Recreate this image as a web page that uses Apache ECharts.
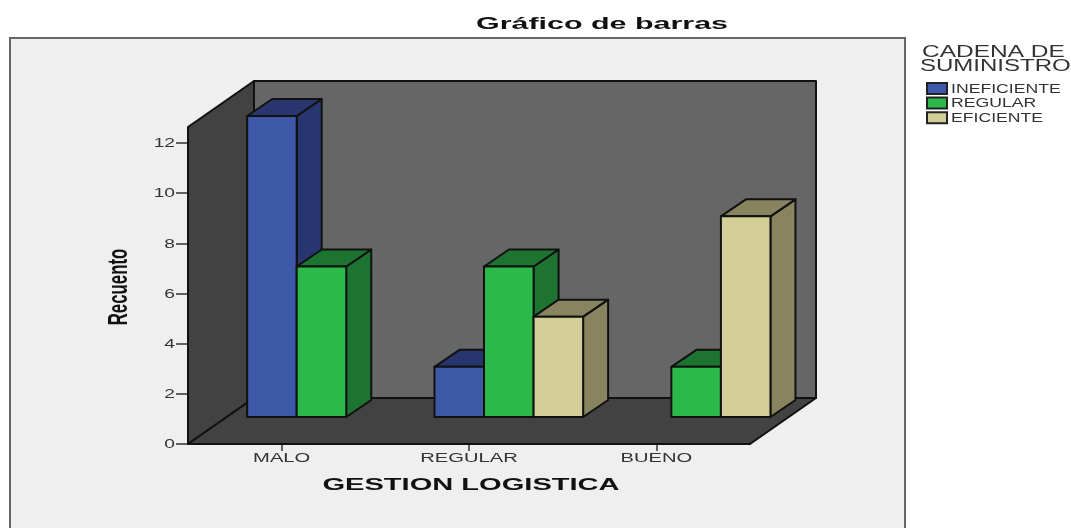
<!DOCTYPE html>
<html>
<head>
<meta charset="utf-8">
<style>
  html, body { margin: 0; padding: 0; background: #fff; }
  #chart { width: 1071px; height: 528px; }
</style>
</head>
<body>
<div id="chart"></div>
<script src="https://cdn.jsdelivr.net/npm/echarts@6/dist/echarts.min.js"></script>
<script>
const categories = ['MALO', 'REGULAR', 'BUENO'];
const yTicks = [0, 2, 4, 6, 8, 10, 12];
const seriesNames = ['INEFICIENTE', 'REGULAR', 'EFICIENTE'];
const ineficiente = [12, 2, 0];
const regular = [6, 6, 2];
const eficiente = [0, 4, 8];
const seriesValues = [ineficiente, regular, eficiente];

const frontColors = ['#3e58a8', '#2db84a', '#d3ce97'];
const sideColors = ['#27366f', '#1c7430', '#87845f'];
const lineColor = '#111';
const textColor = '#333';
const font = '"Liberation Sans", Arial, sans-serif';

// the box drawn around the plot, and where the bars sit inside it
const wallTop = 12.64;
const boxDepth = [66, -46];
const barPlane = [39.8, -27];
const barDepth = [25, -17];
const slotShare = 0.2645;

function poly(points, fill) {
  return {
    type: 'polygon',
    shape: { points: points },
    style: { fill: fill, stroke: lineColor, lineWidth: 2, lineJoin: 'round' }
  };
}

function label(text, x, y, size, fill, align, scaleX, bold) {
  return {
    type: 'text',
    x: x,
    y: y,
    scaleX: scaleX,
    silent: true,
    style: {
      text: text,
      x: 0,
      y: 0,
      fill: fill,
      align: align,
      verticalAlign: 'middle',
      font: (bold ? 'bold ' : '') + size + 'px ' + font
    }
  };
}

function renderWalls(params, api) {
  const box = params.coordSys;
  const left = box.x;
  const right = box.x + box.width;
  const bottom = api.coord([0, 0])[1];
  const top = api.coord([0, wallTop])[1];
  const dx = boxDepth[0];
  const dy = boxDepth[1];
  return {
    type: 'group',
    children: [
      poly([[left + dx, top + dy], [right + dx, top + dy], [right + dx, bottom + dy], [left + dx, bottom + dy]], '#666666'),
      poly([[left, top], [left + dx, top + dy], [left + dx, bottom + dy], [left, bottom]], '#424242'),
      poly([[left, bottom], [left + dx, bottom + dy], [right + dx, bottom + dy], [right, bottom]], '#424242')
    ]
  };
}

function barRenderer(seriesIndex) {
  return function (params, api) {
    const value = api.value(1);
    if (!value) {
      return null;
    }
    const slot = api.size([1, 0])[0] * slotShare;
    const center = api.coord([api.value(0), 0])[0];
    const x0 = center + barPlane[0] + slot * (seriesIndex - 1.5);
    const x1 = x0 + slot;
    const y0 = api.coord([0, 0])[1] + barPlane[1];
    const y1 = api.coord([0, value])[1] + barPlane[1];
    const dx = barDepth[0];
    const dy = barDepth[1];
    return {
      type: 'group',
      children: [
        poly([[x1, y1], [x1 + dx, y1 + dy], [x1 + dx, y0 + dy], [x1, y0]], sideColors[seriesIndex]),
        poly([[x0, y1], [x0 + dx, y1 + dy], [x1 + dx, y1 + dy], [x1, y1]], sideColors[seriesIndex]),
        poly([[x0, y1], [x1, y1], [x1, y0], [x0, y0]], frontColors[seriesIndex])
      ]
    };
  };
}

const barSeries = seriesNames.map(function (name, i) {
  return {
    type: 'custom',
    name: name,
    renderItem: barRenderer(i),
    encode: { x: 0, y: 1 },
    data: seriesValues[i].map(function (v, c) { return [c, v]; })
  };
});

const legendRows = [];
seriesNames.forEach(function (name, i) {
  const y = 83 + i * 14.6;
  legendRows.push({
    type: 'rect',
    shape: { x: 927, y: y, width: 20, height: 11 },
    style: { fill: frontColors[i], stroke: '#222', lineWidth: 2 }
  });
  legendRows.push(label(name, 951, y + 6.5, 12, textColor, 'left', 1.47, false));
});

const chart = echarts.init(document.getElementById('chart'));
chart.setOption({
  animation: false,
  backgroundColor: '#fff',
  grid: { left: 188, top: 143, width: 562, height: 301 },
  xAxis: {
    type: 'category',
    data: categories,
    axisLine: { lineStyle: { color: lineColor, width: 2 } },
    axisTick: { show: true, alignWithLabel: true, length: 7, lineStyle: { color: textColor, width: 1.5 } },
    axisLabel: { show: false }
  },
  yAxis: {
    type: 'value',
    min: 0,
    max: 12,
    interval: 2,
    axisLine: { show: true, lineStyle: { color: lineColor, width: 2 } },
    axisTick: { show: true, length: 12, lineStyle: { color: textColor, width: 1.5 } },
    axisLabel: { show: false },
    splitLine: { show: false }
  },
  graphic: [
    {
      type: 'rect',
      z: -1,
      shape: { x: 10, y: 38, width: 895, height: 520 },
      style: { fill: '#efefef', stroke: '#666', lineWidth: 2 }
    },
    label('Gráfico de barras', 602, 24, 17, '#111', 'center', 1.79, true),
    label('GESTION LOGISTICA', 471, 485, 17, '#111', 'center', 1.71, true),
    Object.assign(label('Recuento', 119, 287, 28, '#111', 'center', 0.6, true), { rotation: Math.PI / 2 }),
    label('CADENA DE', 922, 53, 16, textColor, 'left', 1.53, false),
    label('SUMINISTRO', 920, 67, 16, textColor, 'left', 1.5, false)
  ].concat(legendRows),
  series: [
    {
      type: 'custom',
      silent: true,
      renderItem: renderWalls,
      encode: { x: 0, y: 1 },
      data: [[0, wallTop]]
    }
  ].concat(barSeries, [
    {
      type: 'custom',
      silent: true,
      renderItem: function (params, api) {
        const p = api.coord([api.value(0), 0]);
        return label(categories[api.value(0)], p[0], p[1] + 15, 12, textColor, 'center', 1.68, false);
      },
      encode: { x: 0, y: 1 },
      data: categories.map(function (c, i) { return [i, 0]; })
    },
    {
      type: 'custom',
      silent: true,
      renderItem: function (params, api) {
        const y = api.coord([0, api.value(1)])[1];
        return label(String(api.value(1)), params.coordSys.x - 13, y + 1, 12, textColor, 'right', 1.6, false);
      },
      encode: { x: 0, y: 1 },
      data: yTicks.map(function (v) { return [0, v]; })
    }
  ])
});
</script>
</body>
</html>
